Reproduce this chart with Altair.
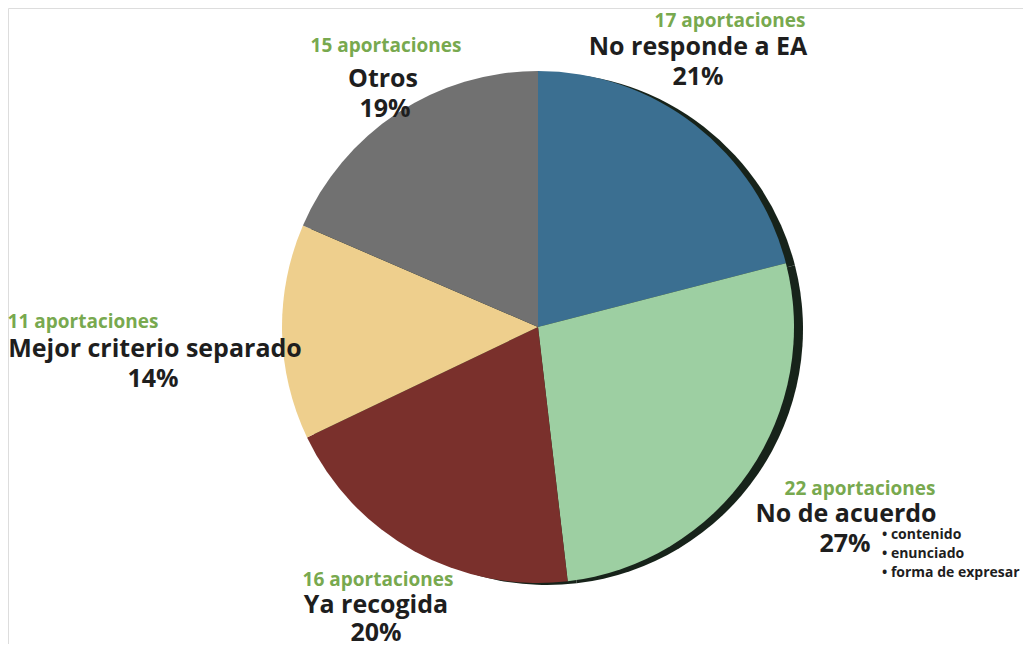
import altair as alt
import pandas as pd

categories = ["No responde a EA", "No de acuerdo", "Ya recogida", "Mejor criterio separado", "Otros"]
counts = [17, 22, 16, 11, 15]
percents = ["21%", "27%", "20%", "14%", "19%"]
colors = ["#3b6f91", "#9dcfa2", "#7a302c", "#eecf8d", "#717171"]
bullets = ["• contenido", "• enunciado", "• forma de expresar"]

OX, OY = 8, 11  # page margin plus small upward shift
W, H = 1015, 636
CX, CY, R = 538 - OX, 330 - OY, 256

pie_df = pd.DataFrame({"cat": categories, "n": counts, "order": list(range(len(categories)))})

color_scale = alt.Scale(domain=categories, range=colors)

shadow = alt.Chart(pie_df).mark_arc(outerRadius=R, color="#17231a").encode(
    theta=alt.Theta("n:Q", stack=True),
    order=alt.Order("order:Q"),
    x=alt.value(CX + 9), y=alt.value(CY + 2),
)

pie = alt.Chart(pie_df).mark_arc(outerRadius=R).encode(
    theta=alt.Theta("n:Q", stack=True),
    order=alt.Order("order:Q"),
    color=alt.Color("cat:N", scale=color_scale, legend=None),
    x=alt.value(CX), y=alt.value(CY),
)

# label anchor positions (page pixels): green line, name line, percent line
label_pos = {
    "No responde a EA": [(730, 30), (698, 58), (698, 88)],
    "No de acuerdo": [(860, 498), (846, 525), (845, 555)],
    "Ya recogida": [(378, 589), (376, 616), (376, 644)],
    "Mejor criterio separado": [(83, 331), (155, 360), (153, 390)],
    "Otros": [(386, 55), (383, 90), (385, 120)],
}

green_rows, black_rows = [], []
for cat, n, p in zip(categories, counts, percents):
    (gx, gy), (nx, ny), (px, py) = label_pos[cat]
    green_rows.append({"t": f"{n} aportaciones", "x": gx - OX, "y": gy - OY})
    black_rows.append({"t": cat, "x": nx - OX, "y": ny - OY})
    black_rows.append({"t": p, "x": px - OX, "y": py - OY})

bullet_rows = [{"t": b, "x": 882 - OX, "y": y - OY} for b, y in zip(bullets, [542, 561, 580])]

green = alt.Chart(pd.DataFrame(green_rows)).mark_text(
    font="Open Sans", fontSize=19, fontWeight="bold", color="#78a94f", align="center", baseline="alphabetic"
).encode(x=alt.X("x:Q", scale=None), y=alt.Y("y:Q", scale=None), text="t:N")

black = alt.Chart(pd.DataFrame(black_rows)).mark_text(
    font="Open Sans", fontSize=25, fontWeight="bold", color="#1e1e1e", align="center", baseline="alphabetic"
).encode(x=alt.X("x:Q", scale=None), y=alt.Y("y:Q", scale=None), text="t:N")

bl = alt.Chart(pd.DataFrame(bullet_rows)).mark_text(
    font="Open Sans", fontSize=14, fontWeight="bold", color="#1e1e1e", align="left", baseline="alphabetic"
).encode(x=alt.X("x:Q", scale=None), y=alt.Y("y:Q", scale=None), text="t:N")

chart = alt.layer(shadow, pie, green, black, bl).properties(
    width=W, height=H, padding=0, autosize=alt.AutoSizeParams(type="none")
).configure_view(stroke=None).configure(background="white")

chart.save("out.html", embed_options={"renderer": "svg", "actions": False})
